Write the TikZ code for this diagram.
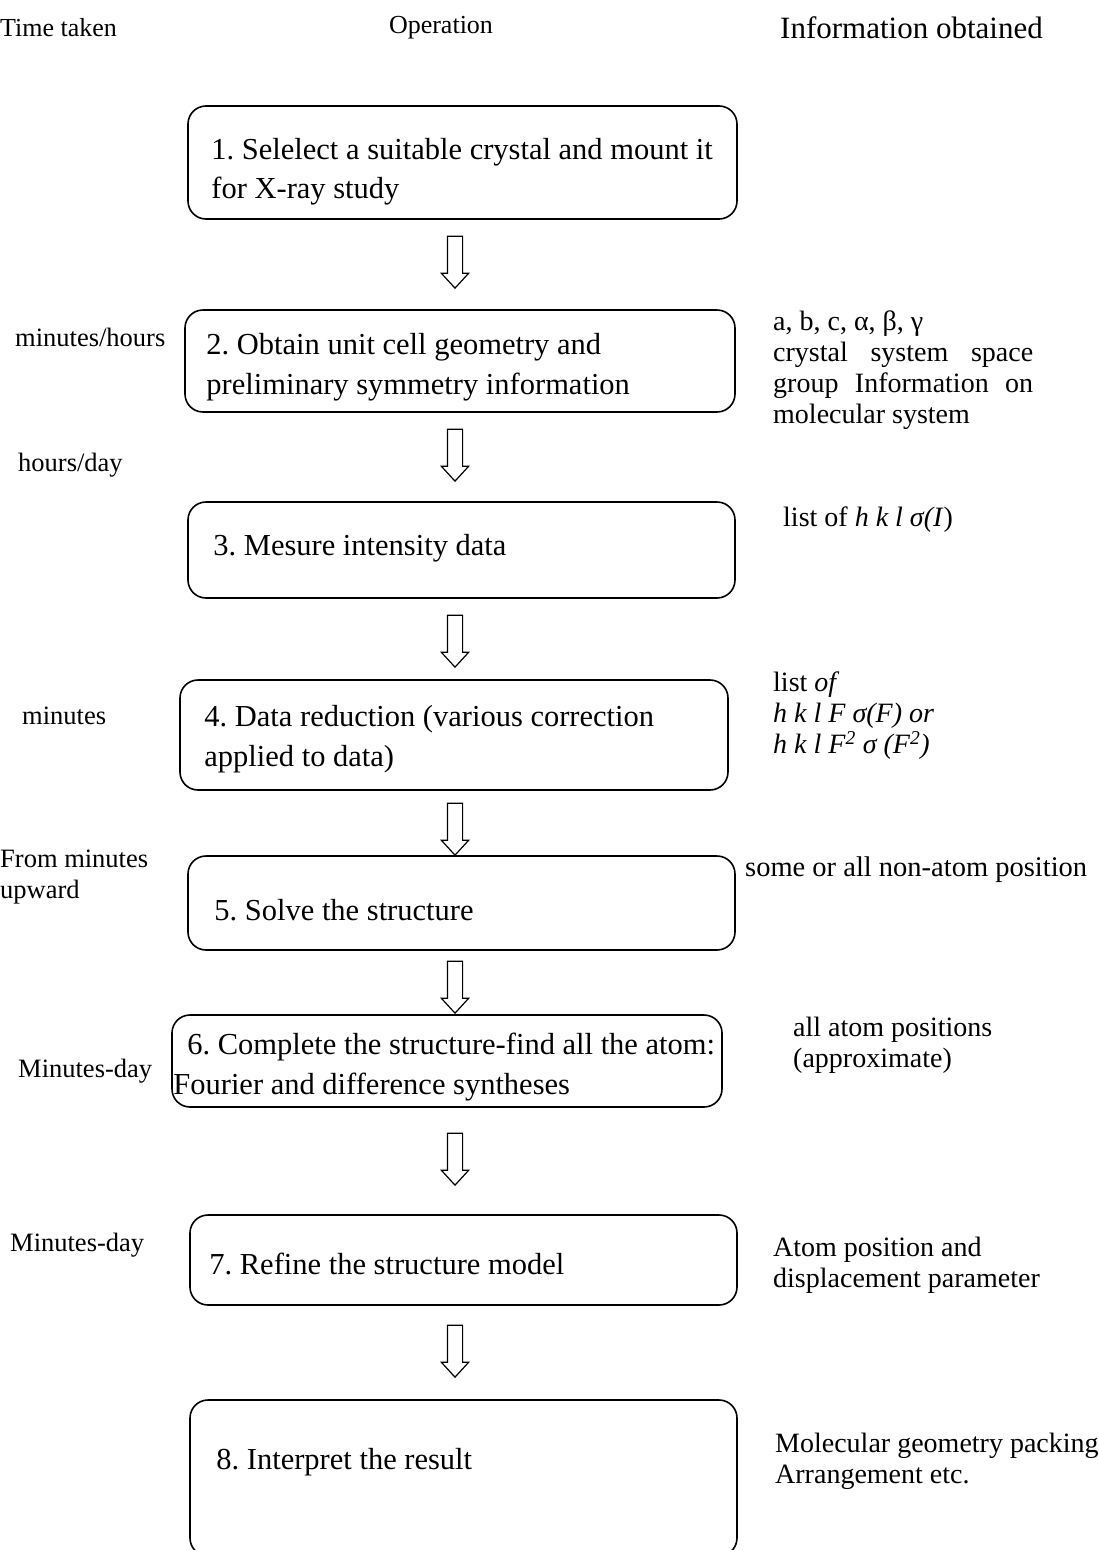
\documentclass[tikz,border=0pt]{standalone}
\usepackage{fontspec}
\setmainfont{Liberation Serif}
\usetikzlibrary{shapes.arrows}
\tikzset{
  stepbox/.style={draw, line width=1.6pt, rounded corners=18pt, inner sep=0pt},
  steptxt/.style={anchor=west, align=left, inner sep=0pt, font=\fontsize{30.5}{39.5}\selectfont\frenchspacing},
  hdr/.style={inner sep=0pt, font=\fontsize{26}{30}\selectfont},
  tlbl/.style={anchor=west, align=left, inner sep=0pt, font=\fontsize{26.5}{31}\selectfont},
  ilbl/.style={anchor=west, align=left, inner sep=0pt, font=\fontsize{28}{31}\selectfont\frenchspacing},
  harr/.style={single arrow, draw, line width=1.2pt, rotate=-90, minimum height=52pt, minimum width=26pt,
    inner xsep=0pt, inner ysep=7pt, single arrow head extend=6pt, single arrow tip angle=85, outer sep=0pt},
}
\begin{document}
\begin{tikzpicture}[x=1pt, y=-1pt]
  \useasboundingbox (0,0) rectangle (1099,1550);
  % column heads
  \node[hdr, anchor=west] (hTime) at (0,28) {Time taken};
  \node[hdr] (hOp) at (441,28) {Operation};
  \node[hdr, anchor=west, font=\fontsize{31}{34}\selectfont] (hInfo) at (780,28) {Information obtained};
  % operation boxes
  \node[stepbox, minimum width=549pt, minimum height=113pt] (b1) at (462.5,162.5) {};
  \node[stepbox, minimum width=550pt, minimum height=102pt] (b2) at (460,361) {};
  \node[stepbox, minimum width=547pt, minimum height=96pt] (b3) at (461.5,550) {};
  \node[stepbox, minimum width=548pt, minimum height=110pt] (b4) at (454,735) {};
  \node[stepbox, minimum width=547pt, minimum height=94pt] (b5) at (461.5,903) {};
  \node[stepbox, minimum width=550pt, minimum height=92pt] (b6) at (447,1061) {};
  \node[stepbox, minimum width=547pt, minimum height=90pt] (b7) at (463.5,1260) {};
  \node[stepbox, minimum width=547pt, minimum height=156pt] (b8) at (463.5,1478) {};
  % texts in the boxes
  \node[steptxt] (s1) at ([xshift=24pt, yshift=-9pt]b1.west) {1. Selelect a suitable crystal and mount it\\for X-ray study};
  \node[steptxt] (s2) at ([xshift=22pt, yshift=-6pt]b2.west) {2. Obtain unit cell geometry and\\preliminary symmetry information};
  \node[steptxt] (s3) at ([xshift=26pt, yshift=2pt]b3.west) {3. Mesure intensity data};
  \node[steptxt] (s4) at ([xshift=25pt, yshift=-4pt]b4.west) {4. Data reduction (various correction\\applied to data)};
  \node[steptxt] (s5) at ([xshift=27pt, yshift=-7pt]b5.west) {5. Solve the structure};
  \node[steptxt] (s6) at ([xshift=2pt, yshift=-6pt]b6.west) {\hspace*{14pt}6. Complete the structure-find all the atom:\\Fourier and difference syntheses};
  \node[steptxt] (s7) at ([xshift=20pt, yshift=-4pt]b7.west) {7. Refine the structure model};
  \node[steptxt] (s8) at ([xshift=27pt, yshift=16pt]b8.west) {8. Interpret the result};
  % hollow arrows between the steps
  \foreach \n/\y in {1/258, 2/451, 3/637, 4/825, 5/983, 6/1155, 7/1347}
    \node[harr] (ar\n) at (455,\y) {};
  % time taken
  \node[tlbl] (t2) at (15,337) {minutes/hours};
  \node[tlbl] (t3) at (18,465) {hours/day};
  \node[tlbl] (t4) at (22,716) {minutes};
  \node[tlbl] (t5) at (0,877) {From minutes\\upward};
  \node[tlbl] (t6) at (18,1071) {Minutes-day};
  \node[tlbl] (t7) at (10,1245) {Minutes-day};
  % information obtained
  \node[ilbl, text width=260pt, align=justify] (i2) at (773,370) {\hyphenpenalty=10000 a, b, c, α, β, γ\\crystal system space group Information on molecular system};
  \node[ilbl] (i3) at (783,520) {list of \textit{h k l σ(I}\/)};
  \node[ilbl] (i4) at (773,716) {list \textit{of}\\\textit{h k l F σ(F) or}\\\textit{h k l F\textsuperscript{2} σ (F\textsuperscript{2})}};
  \node[ilbl, font=\fontsize{28.5}{31}\selectfont] (i5) at (745,870) {some or all non-atom position};
  \node[ilbl] (i6) at (793,1045.5) {all atom positions\\(approximate)};
  \node[ilbl] (i7) at (773,1265.5) {Atom position and\\displacement parameter};
  \node[ilbl] (i8) at (775,1461) {Molecular geometry packing\\Arrangement etc.};
\end{tikzpicture}
\end{document}
